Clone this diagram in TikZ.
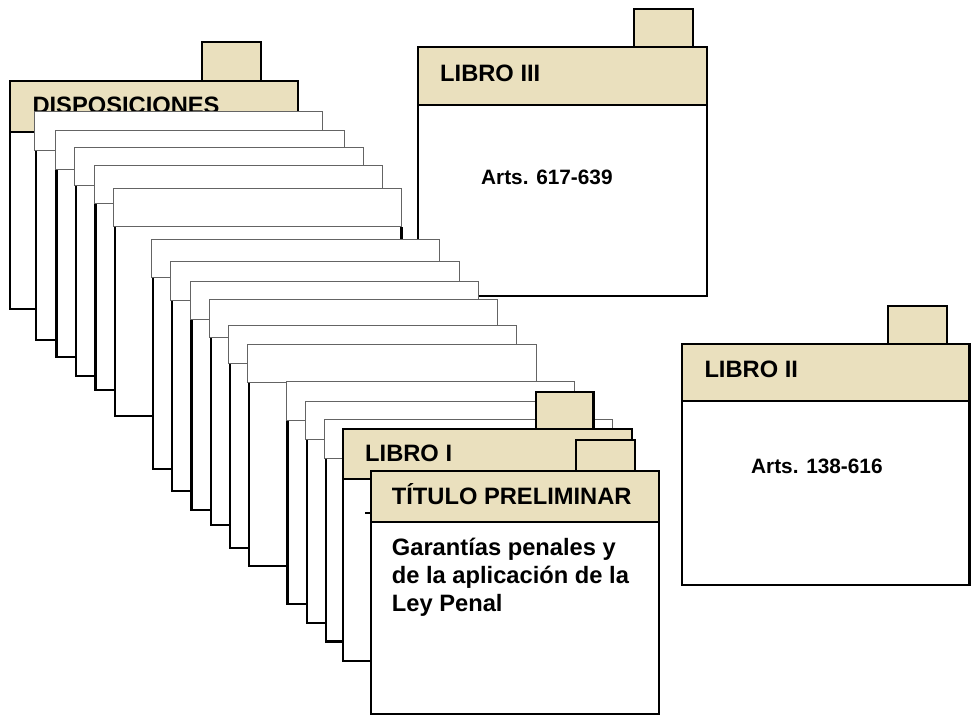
\documentclass[tikz,border=0pt]{standalone}
\usepackage{fontspec}
\setmainfont{Liberation Sans}
\definecolor{cardtan}{RGB}{234,224,190}
\definecolor{thingray}{RGB}{100,100,100}
\tikzset{
  thickline/.style={line width=2.2pt, draw=black},
  thinline/.style={line width=1pt, draw=thingray},
  lbl/.style={inner sep=0pt, anchor=base west, font=\bfseries\fontsize{23.7}{27.7}\selectfont},
  arts/.style={inner sep=0pt, anchor=base west, font=\bfseries\fontsize{20.8}{25}\selectfont},
}
% white card: L T R HB B
\newcommand\whitecard[5]{%
  \fill[white] (#1+1.5,#4) rectangle (#3,#5);
  \draw[thickline] (#1+1.5,#4) -- (#1+1.5,#5) -- (#3,#5) -- (#3,#4);
  \draw[thinline, fill=white] (#1,#2) rectangle (#3,#4);
}
% coloured card: L T R HB B tabL tabT tabR
\newcommand\colcard[8]{%
  \draw[thickline, fill=cardtan] (#6,#7) rectangle (#8,#2);
  \draw[thickline, fill=white] (#1,#4) rectangle (#3,#5);
  \draw[thickline, fill=cardtan] (#1,#2) rectangle (#3,#4);
}
\begin{document}
\begin{tikzpicture}[x=1pt,y=-1pt]
\useasboundingbox (0,0) rectangle (971,716);
% DISPOSICIONES
\colcard{10}{80.7}{298}{131.7}{309}{202}{42.3}{260.7}
\node[lbl] (disp) at (32.3,113.7) {DISPOSICIONES};
% first group of blank cards
\whitecard{34.3}{111.7}{322.3}{150}{340.3}
\whitecard{55}{130.7}{344}{169.3}{357}
\whitecard{74.7}{147.7}{363}{185.7}{376.3}
\whitecard{94}{165}{382}{203.3}{390}
\whitecard{113.3}{188}{401.5}{226.7}{415.7}
% LIBRO III
\colcard{418.3}{47.3}{706.7}{105}{295.7}{634}{9}{692.7}
\node[lbl] (l3) at (440,81) {LIBRO III};
\node[arts] (a3) at (481,184.3) {Arts. 617-639};
% second group
\whitecard{151.3}{239}{439.7}{277.7}{469.3}
\whitecard{170.7}{261.7}{459}{300}{490.7}
\whitecard{190}{281}{478.3}{319.3}{510}
\whitecard{209.3}{299.7}{497.3}{337.7}{525.3}
\whitecard{228.7}{325.5}{516.7}{363.3}{547.7}
\whitecard{247.7}{344}{536.3}{382.3}{566}
% third group
\whitecard{286}{381.7}{574.3}{420}{604}
\whitecard{305.3}{401}{593.5}{439.3}{623}
\whitecard{324.3}{419.3}{612.7}{458.3}{641.5}
% LIBRO I
\colcard{343.3}{429}{632.3}{479}{661}{535.7}{392.3}{593.5}
\node[lbl] (l1) at (365,461.7) {LIBRO I};
\draw[line width=2pt] (365,513.3) -- (371,513.3);
% TITULO PRELIMINAR
\colcard{370.7}{470.7}{659}{521.7}{714.3}{576}{440}{635}
\node[lbl] (tp) at (391.7,504.3) {TÍTULO PRELIMINAR};
\node[lbl] (g1) at (391.7,555.7) {Garantías penales y};
\node[lbl] (g2) at (391.7,583.3) {de la aplicación de la};
\node[lbl] (g3) at (391.7,611) {Ley Penal};
% LIBRO II
\colcard{682.3}{343.7}{969.5}{401}{585}{888.3}{306}{946.7}
\node[lbl] (l2) at (704.3,377) {LIBRO II};
\node[arts] (a2) at (751,473.3) {Arts. 138-616};
\end{tikzpicture}
\end{document}
